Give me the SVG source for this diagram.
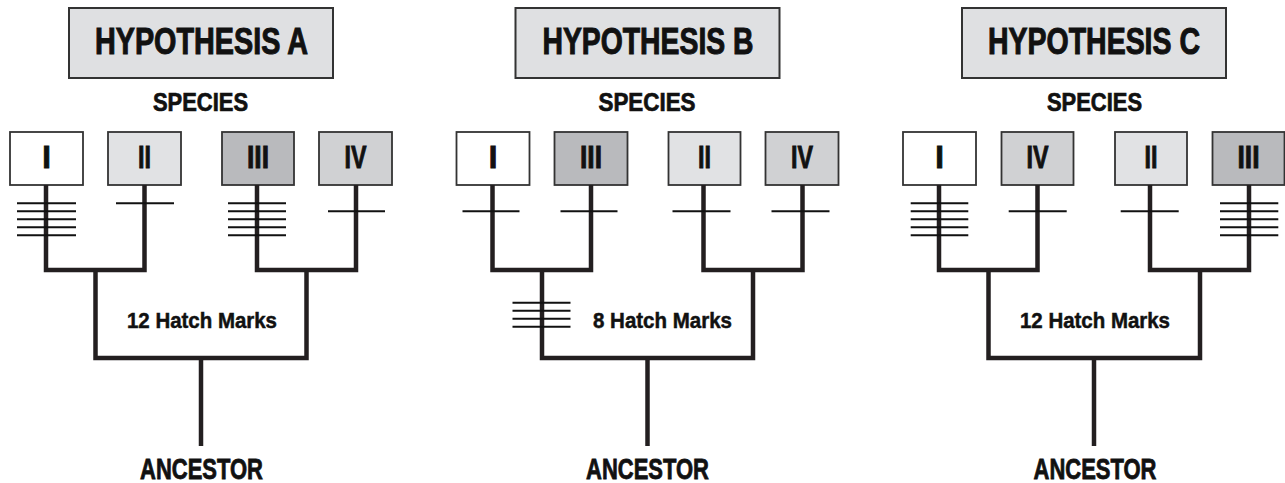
<svg xmlns="http://www.w3.org/2000/svg" width="1285" height="483" viewBox="0 0 1285 483">
  <style>
    text { font-family: "Liberation Sans", Arial, sans-serif; font-weight: bold; fill: #111; stroke: #111; stroke-width: 0.7; text-anchor: middle; }
    .title-box { fill: #dfe0e2; stroke: #333; stroke-width: 2; }
    .title { font-size: 36px; stroke-width: 1; }
    .species { font-size: 25px; }
    .num { font-size: 31px; stroke-width: 0.9; }
    .sp { stroke: #333; stroke-width: 1.8; }
    .c1 { fill: #ffffff; }
    .c2 { fill: #e1e2e4; }
    .c3 { fill: #b9babd; }
    .c4 { fill: #d0d1d3; }
    .branch { fill: none; stroke: #231f20; stroke-width: 4.5; stroke-linejoin: miter; stroke-linecap: butt; }
    .hatch { stroke: #111; stroke-width: 2; }
    .marks { font-size: 22px; stroke-width: 0.5; }
    .anc { font-size: 29px; stroke-width: 0.8; }
  </style>

  <!-- ===== Panel A ===== -->
  <g id="panel-a">
    <g id="a-title">
      <rect class="title-box" x="69" y="8" width="264" height="70"/>
      <text class="title" x="201.5" y="54" textLength="213" lengthAdjust="spacingAndGlyphs">HYPOTHESIS A</text>
    </g>
    <text class="species" x="200.5" y="111" textLength="95" lengthAdjust="spacingAndGlyphs">SPECIES</text>
    <g id="a-sp1"><rect class="sp c1" x="10" y="132" width="73" height="53"/><text class="num" x="46.5" y="168">I</text></g>
    <g id="a-sp2"><rect class="sp c2" x="108" y="132" width="73" height="53"/><text class="num" x="144.5" y="168" textLength="13" lengthAdjust="spacingAndGlyphs">II</text></g>
    <g id="a-sp3"><rect class="sp c3" x="222" y="132" width="72" height="53"/><text class="num" x="258" y="168" textLength="22" lengthAdjust="spacingAndGlyphs">III</text></g>
    <g id="a-sp4"><rect class="sp c4" x="319" y="132" width="73" height="53"/><text class="num" x="355.5" y="168" textLength="22" lengthAdjust="spacingAndGlyphs">IV</text></g>
    <g id="a-connectors">
      <path class="branch" d="M46,185 V270 H144.5 V185"/>
      <path class="branch" d="M257,185 V270 H356 V185"/>
      <path class="branch" d="M95.5,270 V358 H306.5 V270"/>
      <path class="branch" d="M201,358 V446"/>
      <g class="hatch">
        <path d="M17,203.3 H76 M17,211.3 H76 M17,219.3 H76 M17,227.3 H76 M17,235.3 H76"/>
        <path d="M116,203.3 H174"/>
        <path d="M228,203.3 H286 M228,211.3 H286 M228,219.3 H286 M228,227.3 H286 M228,235.3 H286"/>
        <path d="M328,211.3 H385"/>
      </g>
    </g>
    <text class="marks" x="202" y="328" textLength="150" lengthAdjust="spacingAndGlyphs">12 Hatch Marks</text>
    <text class="anc" x="201.5" y="479" textLength="123" lengthAdjust="spacingAndGlyphs">ANCESTOR</text>
  </g>

  <!-- ===== Panel B ===== -->
  <g id="panel-b" transform="translate(446.5,0)">
    <g id="b-title">
      <rect class="title-box" x="69" y="8" width="264" height="70"/>
      <text class="title" x="201.5" y="54" textLength="211" lengthAdjust="spacingAndGlyphs">HYPOTHESIS B</text>
    </g>
    <text class="species" x="200.5" y="111" textLength="97" lengthAdjust="spacingAndGlyphs">SPECIES</text>
    <g id="b-sp1"><rect class="sp c1" x="10" y="132" width="73" height="53"/><text class="num" x="46.5" y="168">I</text></g>
    <g id="b-sp3"><rect class="sp c3" x="108" y="132" width="73" height="53"/><text class="num" x="144.5" y="168" textLength="22" lengthAdjust="spacingAndGlyphs">III</text></g>
    <g id="b-sp2"><rect class="sp c2" x="222" y="132" width="72" height="53"/><text class="num" x="258" y="168" textLength="13" lengthAdjust="spacingAndGlyphs">II</text></g>
    <g id="b-sp4"><rect class="sp c4" x="319" y="132" width="73" height="53"/><text class="num" x="355.5" y="168" textLength="22" lengthAdjust="spacingAndGlyphs">IV</text></g>
    <g id="b-connectors">
      <path class="branch" d="M46,185 V270 H144.5 V185"/>
      <path class="branch" d="M257,185 V270 H356 V185"/>
      <path class="branch" d="M95.5,270 V358 H306.5 V270"/>
      <path class="branch" d="M201,358 V446"/>
      <g class="hatch">
        <path d="M16,211.3 H73"/>
        <path d="M114,211.3 H171"/>
        <path d="M226,211.3 H284"/>
        <path d="M325,211.3 H383"/>
        <path d="M66,302.7 H124 M66,310.7 H124 M66,318.7 H124 M66,326.7 H124"/>
      </g>
    </g>
    <text class="marks" x="216" y="328" textLength="139" lengthAdjust="spacingAndGlyphs">8 Hatch Marks</text>
    <text class="anc" x="201" y="479" textLength="123" lengthAdjust="spacingAndGlyphs">ANCESTOR</text>
  </g>

  <!-- ===== Panel C ===== -->
  <g id="panel-c" transform="translate(893,0)">
    <g id="c-title">
      <rect class="title-box" x="69" y="8" width="264" height="70"/>
      <text class="title" x="201" y="54" textLength="212" lengthAdjust="spacingAndGlyphs">HYPOTHESIS C</text>
    </g>
    <text class="species" x="201.5" y="111" textLength="95" lengthAdjust="spacingAndGlyphs">SPECIES</text>
    <g id="c-sp1"><rect class="sp c1" x="10" y="132" width="73" height="53"/><text class="num" x="46.5" y="168">I</text></g>
    <g id="c-sp4"><rect class="sp c4" x="108.5" y="132" width="72" height="53"/><text class="num" x="144.5" y="168" textLength="22" lengthAdjust="spacingAndGlyphs">IV</text></g>
    <g id="c-sp2"><rect class="sp c2" x="222" y="132" width="72" height="53"/><text class="num" x="258" y="168" textLength="13" lengthAdjust="spacingAndGlyphs">II</text></g>
    <g id="c-sp3"><rect class="sp c3" x="319.5" y="132" width="72" height="53"/><text class="num" x="355.5" y="168" textLength="22" lengthAdjust="spacingAndGlyphs">III</text></g>
    <g id="c-connectors">
      <path class="branch" d="M46,185 V270 H144.5 V185"/>
      <path class="branch" d="M257,185 V270 H356 V185"/>
      <path class="branch" d="M95.5,270 V358 H307 V270"/>
      <path class="branch" d="M201,358 V446"/>
      <g class="hatch">
        <path d="M17.7,203.3 H75.3 M17.7,211.3 H75.3 M17.7,219.3 H75.3 M17.7,227.3 H75.3 M17.7,235.3 H75.3"/>
        <path d="M115.7,211.3 H173.7"/>
        <path d="M227.7,211.3 H285.7"/>
        <path d="M327,203.3 H385.3 M327,211.3 H385.3 M327,219.3 H385.3 M327,227.3 H385.3 M327,235.3 H385.3"/>
      </g>
    </g>
    <text class="marks" x="202" y="328" textLength="150" lengthAdjust="spacingAndGlyphs">12 Hatch Marks</text>
    <text class="anc" x="202" y="479" textLength="123" lengthAdjust="spacingAndGlyphs">ANCESTOR</text>
  </g>
</svg>
